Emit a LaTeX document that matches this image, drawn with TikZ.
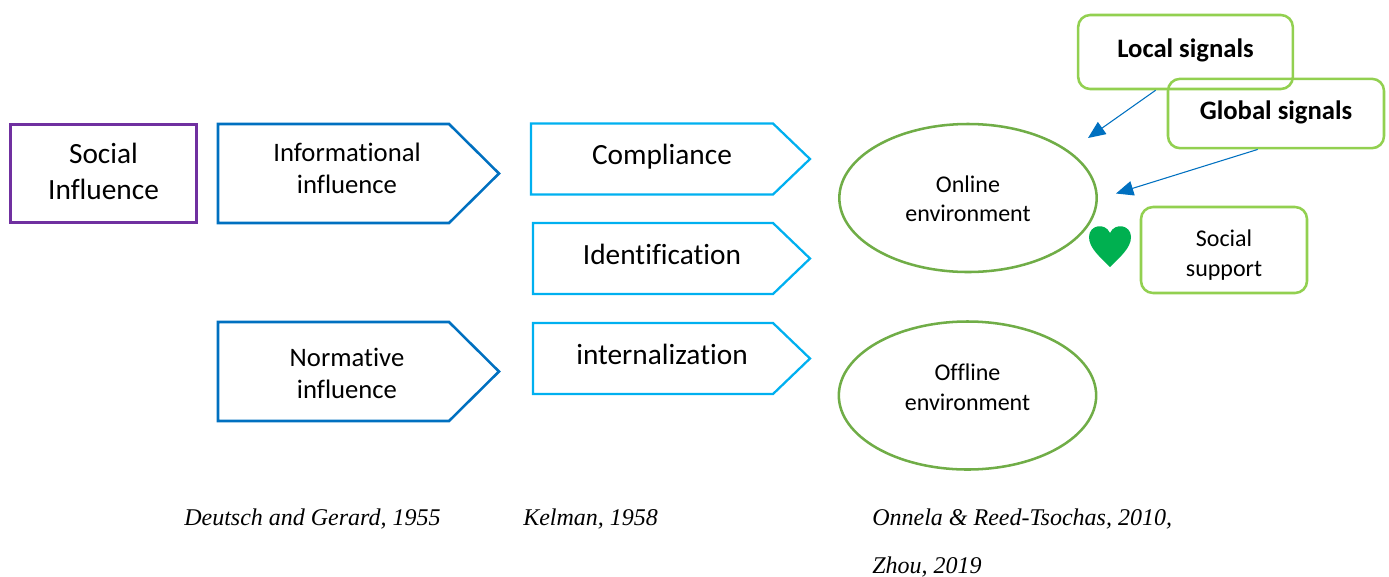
\documentclass[tikz,border=0pt]{standalone}
\usepackage{fontspec}
\setmainfont[Ligatures=NoCommon]{Carlito}
\newfontfamily\citefont{Liberation Serif}
\definecolor{socialpurple}{HTML}{7030A0}
\definecolor{infoblue}{HTML}{0070C0}
\definecolor{stepcyan}{HTML}{00B0F0}
\definecolor{envgreen}{HTML}{70AD47}
\definecolor{signalgreen}{HTML}{92D050}
\definecolor{heartgreen}{HTML}{00B050}
\usetikzlibrary{arrows.meta,shapes.geometric}
\tikzset{
	txt/.style={align=center, inner sep=0pt},
	signalbox/.style={draw=signalgreen, line width=1.9pt, rounded corners=9pt, inner sep=0pt},
	envellipse/.style={draw=envgreen, line width=1.9pt, ellipse, minimum width=193pt, minimum height=111pt, inner sep=0pt},
	citation/.style={anchor=base west, inner sep=0pt, font=\citefont\itshape\fontsize{18}{22}\selectfont},
	sigarrow/.style={draw=infoblue, line width=0.8pt, -{Triangle[length=13pt,width=11pt]}}
}
\begin{document}
\begin{tikzpicture}[x=0.75pt, y=-0.75pt]
	\useasboundingbox (0,0) rectangle (1389,576);
	
	% Left column
	\node[draw=socialpurple, line width=2.2pt, minimum width=139pt, minimum height=74pt] (social) at (103.5,173.5) {};
	\node[txt, font=\fontsize{22}{26.5}\selectfont] (socialtext) at (103.5,171.5) {Social\\Influence};
	
	% Large arrows
	\foreach \y/\nm/\lbl/\ty in {173.5/informational/Informational\\influence/168.5, 371.5/normative/Normative\\influence/373.5} {
		\draw[infoblue, line width=1.9pt] (218,\y-49.5) -- (449,\y-49.5) -- (499,\y) -- (449,\y+49.5) -- (218,\y+49.5) -- cycle;
		\node[txt, font=\fontsize{20}{24}\selectfont] (\nm) at (347,\ty) {\lbl};
	}
	
	% Small arrows
	\foreach \x/\y/\nm/\lbl/\ty in {531/159/compliance/Compliance/156.5, 533/258.5/identification/Identification/254, 533/358.5/internalization/internalization/354} {
		\draw[stepcyan, line width=1.7pt] (\x,\y-35.5) -- (773,\y-35.5) -- (810,\y) -- (773,\y+35.5) -- (\x,\y+35.5) -- cycle;
		\node[txt, font=\fontsize{22}{26}\selectfont] (\nm) at (662,\ty) {\lbl};
	}
	
	% Ellipses
	\node[envellipse] (online) at (968,198) {};
	\node[envellipse] (offline) at (967.5,395.5) {};
	\node[txt, font=\fontsize{18}{21.5}\selectfont] (onlinetext) at (968,198.5) {Online\\environment};
	\node[txt, font=\fontsize{18}{22.5}\selectfont] (offlinetext) at (967.5,387) {Offline\\environment};
	
	% Signal boxes
	\node[signalbox, minimum width=161pt, minimum height=55.5pt] (local) at (1185.5,52) {};
	\node[signalbox, minimum width=162pt, minimum height=52pt] (global) at (1276,113.5) {};
	\node[signalbox, minimum width=124.5pt, minimum height=64.5pt] (support) at (1224,250) {};
	\node[txt, font=\bfseries\fontsize{20}{24}\selectfont] (localtext) at (1185.5,50) {Local signals};
	\node[txt, font=\bfseries\fontsize{20}{24}\selectfont] (globaltext) at (1276,112.5) {Global signals};
	\node[txt, font=\fontsize{18}{22.5}\selectfont] (supporttext) at (1224,255) {Social\\support};
	
	% Arrows to the online ellipse
	\coordinate (localtip) at (1088,138);
	\coordinate (globaltip) at (1116,193.5);
	\draw[sigarrow] (local.232) -- (localtip);
	\draw[sigarrow] (global.243) -- (globaltip);
	
	% Heart
	\fill[heartgreen] (1110,267) .. controls (1100,257) and (1089,248) .. (1089,237) .. controls (1089,225) and (1105,222) .. (1110,233) .. controls (1115,222) and (1131,225) .. (1131,237) .. controls (1131,248) and (1120,257) .. (1110,267) -- cycle;
	
	% Citations
	\node[citation] (deutsch) at (184,525) {Deutsch and Gerard, 1955};
	\node[citation] (kelman) at (523,525) {Kelman, 1958};
	\node[citation] (onnela) at (872,525) {Onnela \& Reed-Tsochas, 2010,};
	\node[citation] (zhou) at (872,573) {Zhou, 2019};
\end{tikzpicture}
\end{document}
